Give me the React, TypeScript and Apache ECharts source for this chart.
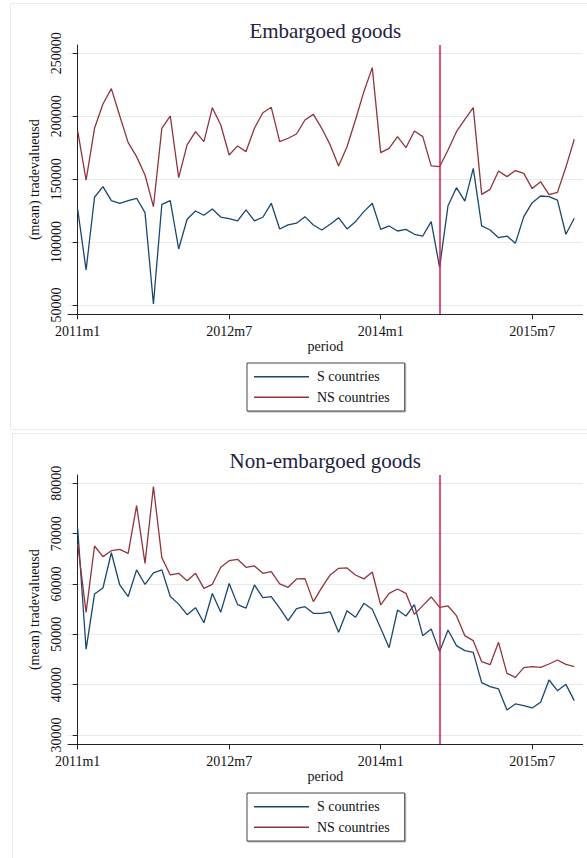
import React, { useEffect, useRef } from "react";
import * as echarts from "echarts";

// ---- data (2011m1 .. 2015m12, 60 months) ----
const periods: string[] = Array.from({ length: 60 }, (_, i) => `${2011 + Math.floor(i / 12)}m${(i % 12) + 1}`);
const tickLabels = ["2011m1", "2012m7", "2014m1", "2015m7"];
const eventPeriod = "2014m8";
const seriesNames = ["S countries", "NS countries"];

const embargoedS = [
  126000, 77800, 135600, 144000, 132900, 130800, 132900, 134800, 123400, 50800,
  130000, 132900, 94500, 118100, 124700, 121300, 126300, 119900, 118600, 116800,
  125500, 116800, 119700, 130800, 110400, 113600, 115000, 120200, 113600, 109600,
  114100, 119400, 110400, 116200, 124200, 130800, 110100, 112800, 108800, 110100,
  106200, 104800, 116200, 79900, 128900, 143200, 132600, 158600, 112800, 109600,
  103500, 104800, 99000, 120200, 131300, 136600, 136100, 133400, 106200, 118900,
];
const embargoedNS = [
  188300, 149300, 190400, 209700, 221900, 200200, 179000, 167900, 153300, 128100,
  190400, 200200, 151200, 177200, 187700, 179800, 206800, 193000, 169200, 176400,
  171900, 190400, 202800, 207100, 179800, 182500, 185900, 197000, 201500, 190400,
  177200, 160500, 175800, 197000, 219500, 238600, 171100, 174500, 183800, 175000,
  188300, 183800, 160500, 159900, 173200, 187700, 197500, 206800, 137900, 141900,
  156500, 152000, 156800, 154600, 142500, 148000, 137700, 139500, 159400, 181700,
];
const nonEmbargoedS = [
  71060, 47020, 58000, 59200, 66200, 59800, 57500, 62800, 59900, 62200,
  62800, 57500, 56000, 53900, 55300, 52300, 58100, 54400, 60100, 55900,
  55200, 59800, 57300, 57500, 55200, 52700, 55100, 55490, 54170, 54170,
  54440, 50400, 54700, 53380, 56160, 54970, 51190, 47350, 54830, 53640,
  55890, 49730, 51060, 46560, 50860, 47750, 46750, 46420, 40390, 39600,
  39140, 34960, 36160, 35830, 35370, 36490, 40920, 38800, 40060, 36820,
];
const nonEmbargoedNS = [
  67950, 54370, 67550, 65430, 66620, 66890, 66090, 75560, 64100, 79340,
  65230, 61790, 62120, 60660, 62120, 59140, 59930, 63310, 64630, 64900,
  63310, 63580, 62120, 62450, 60000, 59340, 61000, 61060, 56490, 59270,
  61790, 63110, 63180, 61790, 61000, 62380, 55830, 58140, 59000, 58140,
  53970, 55700, 57420, 55360, 55630, 53710, 49730, 48740, 44570, 43970,
  48410, 42250, 41450, 43380, 43570, 43440, 44100, 44900, 44040, 43570,
];
const topTicks = [50000, 100000, 150000, 200000, 250000];
const bottomTicks = [30000, 40000, 50000, 60000, 70000, 80000];
const panelTitles = ["Embargoed goods", "Non-embargoed goods"];
const yName = "(mean) tradevalueusd";
const xName = "period";

const FONT = "'Liberation Serif', 'Times New Roman', serif";
const S_COLOR = "#1a476f";
const NS_COLOR = "#90353b";
const EVENT_COLOR = "#d81b4b";

export default function App() {
  const ref = useRef<HTMLDivElement>(null);
  useEffect(() => {
    if (!ref.current) return;
    const chart = echarts.init(ref.current, null, { renderer: "svg" });
    const tickIdx = tickLabels.map((l) => periods.indexOf(l));
    const eventIdx = periods.indexOf(eventPeriod);
    const offset = 430;
    const gridTop = 45;
    const gridH = 269.3;

    const mkX = (gi: number) => ({
      type: "value",
      gridIndex: gi,
      min: -1.15,
      max: 60,
      axisLine: { show: true, lineStyle: { color: "#222", width: 1 } },
      axisTick: { show: true, length: 5, lineStyle: { color: "#222" }, customValues: tickIdx },
      axisLabel: {
        customValues: tickIdx,
        formatter: (v: number) => periods[Math.round(v)] ?? "",
        color: "#111",
        fontFamily: FONT,
        fontSize: 14,
        margin: 10,
      },
      splitLine: { show: false },
      name: xName,
      nameLocation: "middle",
      nameGap: 24,
      nameTextStyle: { color: "#111", fontFamily: FONT, fontSize: 14 },
    });
    const mkY = (gi: number, min: number, max: number, ticks: number[]) => ({
      type: "value",
      gridIndex: gi,
      min,
      max,
      axisLine: { show: true, lineStyle: { color: "#222", width: 1 } },
      axisTick: { show: true, length: 5, lineStyle: { color: "#222" }, customValues: ticks },
      axisLabel: {
        customValues: ticks,
        rotate: 90,
        formatter: (v: number) => String(v),
        color: "#111",
        fontFamily: FONT,
        fontSize: 14,
        margin: 5,
      },
      splitLine: { show: true, lineStyle: { color: "#e6ecee", width: 1 } },
      name: yName,
      nameLocation: "middle",
      nameGap: 24,
      nameTextStyle: { color: "#111", fontFamily: FONT, fontSize: 14 },
    });
    const mkSeries = (name: string, data: number[], gi: number, color: string, withEvent: boolean) => ({
      type: "line",
      name,
      xAxisIndex: gi,
      yAxisIndex: gi,
      data: data.map((v, i) => [i, v]),
      symbol: "none",
      lineStyle: { color, width: 1.3 },
      itemStyle: { color },
      silent: true,
      markLine: withEvent
        ? {
            silent: true,
            symbol: "none",
            label: { show: false },
            lineStyle: { color: EVENT_COLOR, width: 1.5, type: "solid" },
            data: [{ xAxis: eventIdx }],
          }
        : undefined,
    });
    const mkLegend = (top: number) => ({
      data: seriesNames,
      orient: "vertical",
      left: 247,
      top,
      padding: [6.7, 15, 6.7, 7],
      icon: "rect",
      itemWidth: 55,
      itemHeight: 1.4,
      itemGap: 6.6,
      borderColor: "#444",
      borderWidth: 1,
      backgroundColor: "#fff",
      shadowColor: "rgba(0,0,0,0.3)",
      shadowOffsetX: 1,
      shadowOffsetY: 1,
      shadowBlur: 0,
      selectedMode: false,
      textStyle: { color: "#111", fontFamily: FONT, fontSize: 14, padding: [0, 0, 0, 3] },
    });

    chart.setOption({
      animation: false,
      backgroundColor: "#fff",
      textStyle: { fontFamily: FONT },
      grid: [
        { left: 68, right: 4.3, top: gridTop, height: gridH, outerBoundsMode: "none" },
        { left: 68, right: 4.3, top: gridTop + offset, height: gridH, outerBoundsMode: "none" },
      ],
      xAxis: [mkX(0), mkX(1)],
      yAxis: [mkY(0, 42600, 256600, topTicks), mkY(1, 28150, 81650, bottomTicks)],
      legend: [mkLegend(363), mkLegend(363 + offset)],
      graphic: [
        { type: "rect", shape: { x: 10.5, y: 3.5, width: 600, height: 426 }, style: { fill: "none", stroke: "#ececec", lineWidth: 1 }, silent: true },
        { type: "rect", shape: { x: 12.5, y: 433.5, width: 600, height: 500 }, style: { fill: "none", stroke: "#ececec", lineWidth: 1 }, silent: true },
        ...panelTitles.map((t, k) => ({
          type: "text",
          x: 325.3,
          y: 30.6 + k * offset,
          silent: true,
          style: { text: t, fill: "#22223f", fontFamily: FONT, fontSize: 21, align: "center", verticalAlign: "middle" },
        })),
      ],
      series: [
        mkSeries(seriesNames[0], embargoedS, 0, S_COLOR, true),
        mkSeries(seriesNames[1], embargoedNS, 0, NS_COLOR, false),
        mkSeries(seriesNames[0], nonEmbargoedS, 1, S_COLOR, true),
        mkSeries(seriesNames[1], nonEmbargoedNS, 1, NS_COLOR, false),
      ],
    });
    return () => chart.dispose();
  }, []);
  return (
    <div
      ref={ref}
      style={{ position: "fixed", left: 0, top: 0, width: 587, height: 858, background: "#fff" }}
    />
  );
}
